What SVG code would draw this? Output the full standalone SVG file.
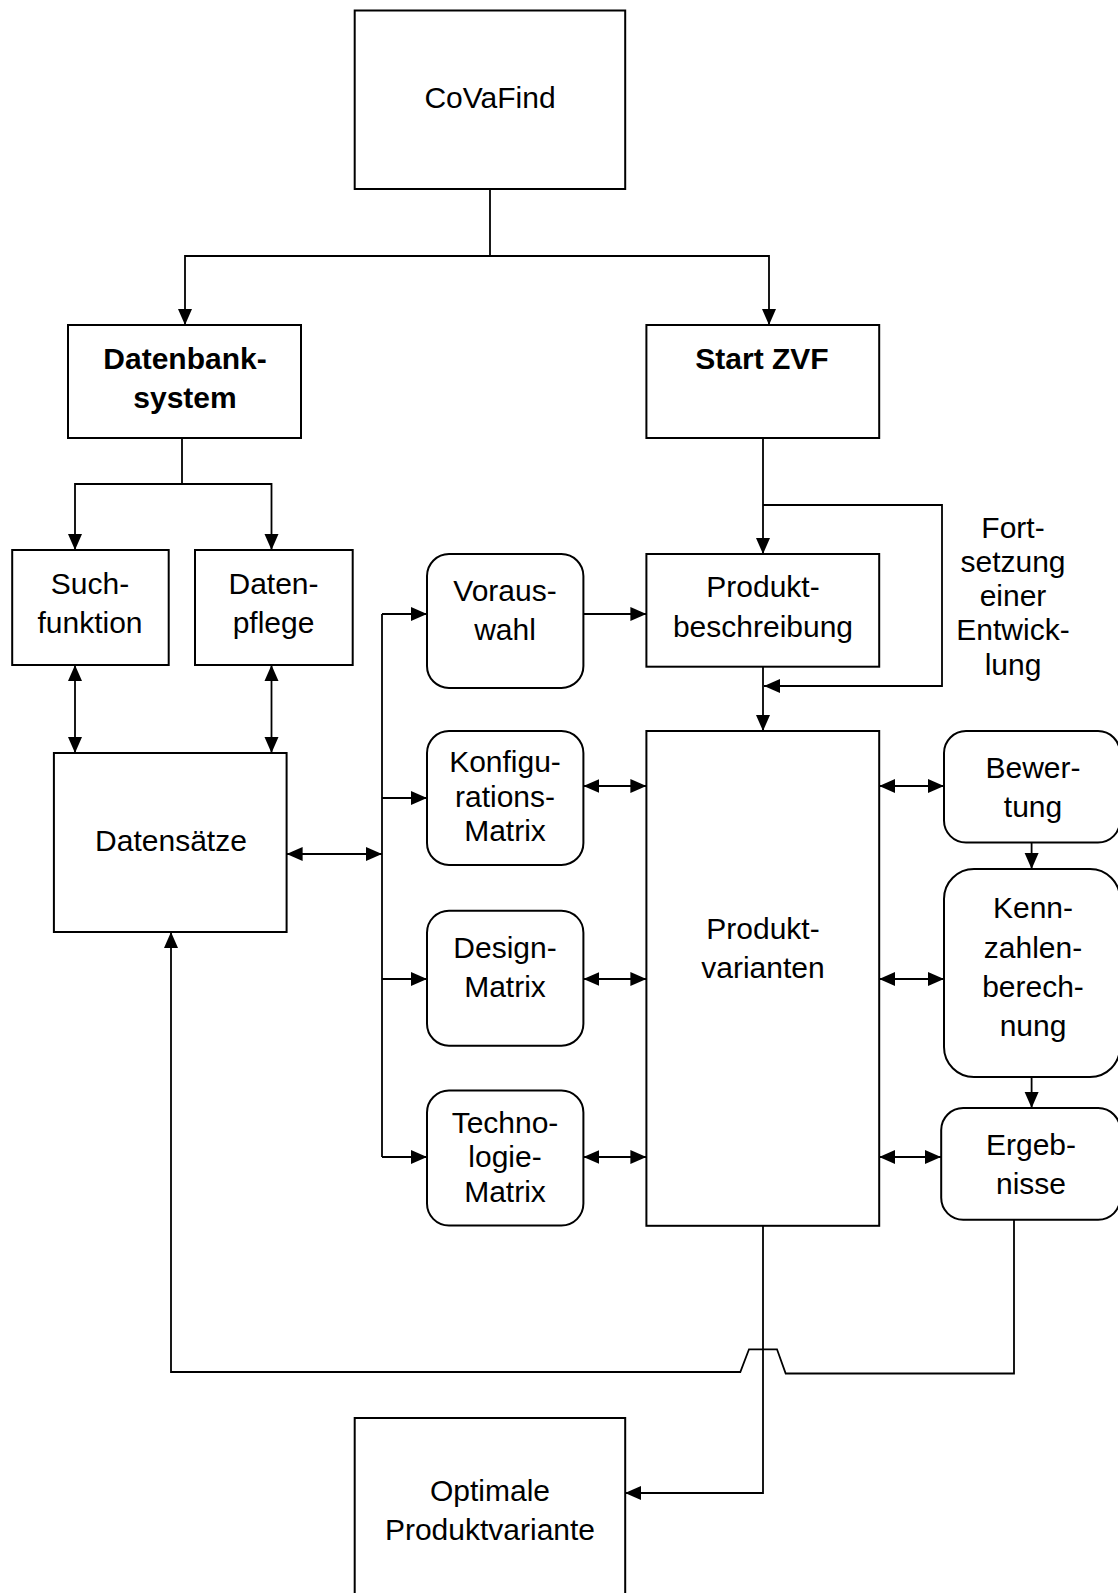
<svg xmlns="http://www.w3.org/2000/svg" width="1118" height="1593" viewBox="0 0 1118 1593">
  <style>
    .box { fill: #ffffff; stroke: #000000; stroke-width: 2; }
    .lbl { font-family: "Liberation Sans", Arial, sans-serif; font-size: 30px; fill: #000000; text-anchor: middle; }
    .bold { font-weight: bold; }
    .wire { fill: none; stroke: #000000; stroke-width: 1.8; }
    .end { marker-end: url(#head); }
    .both { marker-start: url(#head); marker-end: url(#head); }
  </style>
  <defs>
    <marker id="head" markerUnits="userSpaceOnUse" markerWidth="17" markerHeight="16" refX="16" refY="8" orient="auto-start-reverse">
      <path d="M0,1 L16,8 L0,15 Z" fill="#000000"/>
    </marker>
  </defs>

  <rect width="1118" height="1593" fill="#ffffff"/>

  <!-- connectors -->
  <g id="connectors">
    <path class="wire" d="M490,189 V256"/>
    <path class="wire end" d="M490,256 H185 V325"/>
    <path class="wire end" d="M490,256 H769 V325"/>

    <path class="wire" d="M182,438 V484"/>
    <path class="wire end" d="M182,484 H75 V550"/>
    <path class="wire end" d="M182,484 H271.5 V550"/>

    <path class="wire both" d="M75,665 V753"/>
    <path class="wire both" d="M271.5,665 V753"/>

    <path class="wire both" d="M286.6,854 H382"/>

    <path class="wire" d="M382,614 V1157"/>
    <path class="wire end" d="M382,614 H427"/>
    <path class="wire end" d="M382,798 H427"/>
    <path class="wire end" d="M382,979 H427"/>
    <path class="wire end" d="M382,1157 H427"/>

    <path class="wire end" d="M583.4,614 H646.4"/>
    <path class="wire both" d="M583.4,786 H646.4"/>
    <path class="wire both" d="M583.4,979 H646.4"/>
    <path class="wire both" d="M583.4,1157 H646.4"/>

    <path class="wire end" d="M763,438 V554"/>
    <path class="wire end" d="M763,505 H942 V686 H764"/>
    <path class="wire end" d="M763,667 V731"/>

    <path class="wire both" d="M879.2,786 H944"/>
    <path class="wire both" d="M879.2,979 H944"/>
    <path class="wire both" d="M879.2,1157 H941"/>

    <path class="wire end" d="M1031.6,842.6 V869"/>
    <path class="wire end" d="M1031.6,1077 V1108"/>

    <path class="wire end" d="M1014,1220 V1373.5 H785.7 L777,1349.3 H749 L740.3,1372 H171 V932"/>
    <path class="wire end" d="M763,1226 V1493 H625"/>
  </g>

  <!-- nodes -->
  <g id="covafind">
    <rect class="box" x="354.7" y="10.5" width="270.5" height="178.5"/>
    <text class="lbl" x="490" y="108">CoVaFind</text>
  </g>

  <g id="datenbanksystem">
    <rect class="box" x="68" y="325" width="233" height="113"/>
    <text class="lbl bold" x="185" y="369">Datenbank-</text>
    <text class="lbl bold" x="185" y="408">system</text>
  </g>

  <g id="start-zvf">
    <rect class="box" x="646.4" y="325" width="232.8" height="113"/>
    <text class="lbl bold" x="762" y="369">Start ZVF</text>
  </g>

  <g id="suchfunktion">
    <rect class="box" x="12.2" y="550" width="156.5" height="115"/>
    <text class="lbl" x="90" y="594">Such-</text>
    <text class="lbl" x="90" y="633">funktion</text>
  </g>

  <g id="datenpflege">
    <rect class="box" x="195" y="550" width="157.7" height="115"/>
    <text class="lbl" x="273.5" y="594">Daten-</text>
    <text class="lbl" x="273.5" y="633">pflege</text>
  </g>

  <g id="datensaetze">
    <rect class="box" x="53.9" y="753" width="232.7" height="179"/>
    <text class="lbl" x="171" y="851">Datensätze</text>
  </g>

  <g id="vorauswahl">
    <rect class="box" x="427" y="554" width="156.4" height="134" rx="22"/>
    <text class="lbl" x="505" y="601">Voraus-</text>
    <text class="lbl" x="505" y="640">wahl</text>
  </g>

  <g id="konfigurationsmatrix">
    <rect class="box" x="427" y="731" width="156.4" height="134" rx="22"/>
    <text class="lbl" x="505" y="772">Konfigu-</text>
    <text class="lbl" x="505" y="807">rations-</text>
    <text class="lbl" x="505" y="841">Matrix</text>
  </g>

  <g id="designmatrix">
    <rect class="box" x="427" y="910.7" width="156.4" height="135" rx="22"/>
    <text class="lbl" x="505" y="958">Design-</text>
    <text class="lbl" x="505" y="997">Matrix</text>
  </g>

  <g id="technologiematrix">
    <rect class="box" x="427" y="1090.6" width="156.4" height="135" rx="22"/>
    <text class="lbl" x="505" y="1133">Techno-</text>
    <text class="lbl" x="505" y="1167">logie-</text>
    <text class="lbl" x="505" y="1202">Matrix</text>
  </g>

  <g id="produktbeschreibung">
    <rect class="box" x="646.4" y="554" width="232.8" height="112.7"/>
    <text class="lbl" x="763" y="597">Produkt-</text>
    <text class="lbl" x="763" y="637">beschreibung</text>
  </g>

  <g id="fortsetzung">
    <text class="lbl" x="1013" y="538">Fort-</text>
    <text class="lbl" x="1013" y="572">setzung</text>
    <text class="lbl" x="1013" y="606">einer</text>
    <text class="lbl" x="1013" y="640">Entwick-</text>
    <text class="lbl" x="1013" y="675">lung</text>
  </g>

  <g id="produktvarianten">
    <rect class="box" x="646.4" y="731" width="232.8" height="494.8"/>
    <text class="lbl" x="763" y="939">Produkt-</text>
    <text class="lbl" x="763" y="978">varianten</text>
  </g>

  <g id="bewertung">
    <rect class="box" x="944" y="731" width="176" height="111.6" rx="22"/>
    <text class="lbl" x="1033" y="778">Bewer-</text>
    <text class="lbl" x="1033" y="817">tung</text>
  </g>

  <g id="kennzahlenberechnung">
    <rect class="box" x="944" y="869" width="176" height="208" rx="30"/>
    <text class="lbl" x="1033" y="918">Kenn-</text>
    <text class="lbl" x="1033" y="958">zahlen-</text>
    <text class="lbl" x="1033" y="997">berech-</text>
    <text class="lbl" x="1033" y="1036">nung</text>
  </g>

  <g id="ergebnisse">
    <rect class="box" x="941.2" y="1108" width="179" height="111.8" rx="22"/>
    <text class="lbl" x="1031" y="1155">Ergeb-</text>
    <text class="lbl" x="1031" y="1194">nisse</text>
  </g>

  <g id="optimale-produktvariante">
    <rect class="box" x="354.7" y="1418" width="270.5" height="190"/>
    <text class="lbl" x="490" y="1501">Optimale</text>
    <text class="lbl" x="490" y="1540">Produktvariante</text>
  </g>
</svg>
